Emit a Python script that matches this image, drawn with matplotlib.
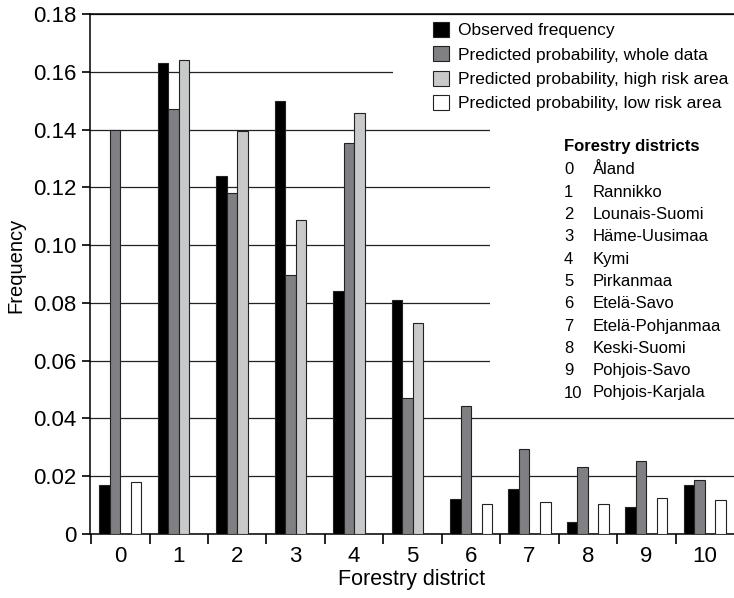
import numpy as np
import matplotlib
matplotlib.use("Agg")
import matplotlib.pyplot as plt
from matplotlib.patches import Patch, Rectangle

plt.rcParams['font.family'] = ['Liberation Sans', 'DejaVu Sans']

# data
districts = np.arange(11)
observed = [0.017, 0.163, 0.124, 0.150, 0.084, 0.081, 0.012, 0.0155, 0.0042, 0.0093, 0.017]
whole_data = [0.140, 0.147, 0.118, 0.0895, 0.1355, 0.047, 0.0443, 0.0293, 0.0232, 0.0253, 0.0186]
high_risk = [np.nan, 0.164, 0.1394, 0.1087, 0.1456, 0.0731, np.nan, np.nan, np.nan, np.nan, np.nan]
low_risk = [0.018, np.nan, np.nan, np.nan, np.nan, np.nan, 0.0105, 0.0112, 0.0105, 0.0125, 0.0118]

series_labels = ["Observed frequency",
                 "Predicted probability, whole data",
                 "Predicted probability, high risk area",
                 "Predicted probability, low risk area"]
series_colors = ["#000000", "#808084", "#c8c9cb", "#ffffff"]

district_names = ["Åland", "Rannikko", "Lounais-Suomi", "Häme-Uusimaa", "Kymi",
                  "Pirkanmaa", "Etelä-Savo", "Etelä-Pohjanmaa", "Keski-Suomi",
                  "Pohjois-Savo", "Pohjois-Karjala"]
yticks = [0, 0.02, 0.04, 0.06, 0.08, 0.10, 0.12, 0.14, 0.16, 0.18]
ytick_labels = ["0", "0.02", "0.04", "0.06", "0.08", "0.10", "0.12", "0.14", "0.16", "0.18"]

W, H = 734, 598
fig = plt.figure(figsize=(W / 100, H / 100), dpi=100)
ax = fig.add_axes([90 / W, 1 - 534 / H, 644 / W, 520 / H])

width = 0.18
all_series = [observed, whole_data, high_risk, low_risk]
for i, (vals, col) in enumerate(zip(all_series, series_colors)):
    ax.bar(districts + (i - 1.5) * width, vals, width, color=col,
           edgecolor="#222222", linewidth=0.8, zorder=3)

ax.set_xlim(-0.52, 10.5)
ax.set_ylim(0, 0.18)
ax.set_yticks(yticks)
ax.set_yticklabels(ytick_labels, fontsize=16)
ax.set_xticks(np.arange(-0.5, 10, 1))
ax.set_xticklabels([])
ax.set_xticks(districts, minor=True)
ax.set_xticklabels([str(d) for d in districts], minor=True, fontsize=16)
ax.tick_params(axis="x", which="major", direction="out", length=7, width=1.2)
ax.tick_params(axis="x", which="minor", length=0, pad=9)
ax.tick_params(axis="y", direction="out", length=6, width=1.2, pad=4)
ax.yaxis.grid(True, color="#222222", linewidth=0.9, zorder=0)
ax.set_axisbelow(True)
for s in ["left", "bottom", "top"]:
    ax.spines[s].set_linewidth(1.1)
ax.spines["right"].set_visible(False)

ax.set_xlabel("Forestry district", fontsize=15.5, labelpad=1)
ax.set_ylabel("Frequency", fontsize=14.5)
ax.yaxis.set_label_coords(-0.1, 0.517)

# white areas behind legend and district list (grid lines stop there)
ax.add_patch(Rectangle((0.4705, 0.806), 0.53, 0.19, transform=ax.transAxes,
                       facecolor="white", edgecolor="none", zorder=1))
ax.add_patch(Rectangle((0.621, 0.238), 0.38, 0.57, transform=ax.transAxes,
                       facecolor="white", edgecolor="none", zorder=1))

handles = [Patch(facecolor=c, edgecolor="#222222", linewidth=0.8) for c in series_colors]
leg = fig.legend(handles, series_labels, loc="upper left",
                 bbox_to_anchor=(433 / W, 1 - 22 / H), frameon=False, fontsize=12.5,
                 handlelength=0.95, handleheight=0.95, handletextpad=0.5,
                 labelspacing=0.45, borderpad=0, borderaxespad=0)

fig.text(564 / W, 1 - 146 / H, "Forestry districts", fontsize=12,
         fontweight="bold", va="center", ha="left")
for k, name in enumerate(district_names):
    y = 1 - (170 + 22.3 * k) / H
    fig.text(564 / W, y, str(k), fontsize=12, va="center", ha="left")
    fig.text(593 / W, y, name, fontsize=12, va="center", ha="left")

fig.savefig("out.png", dpi=100)
